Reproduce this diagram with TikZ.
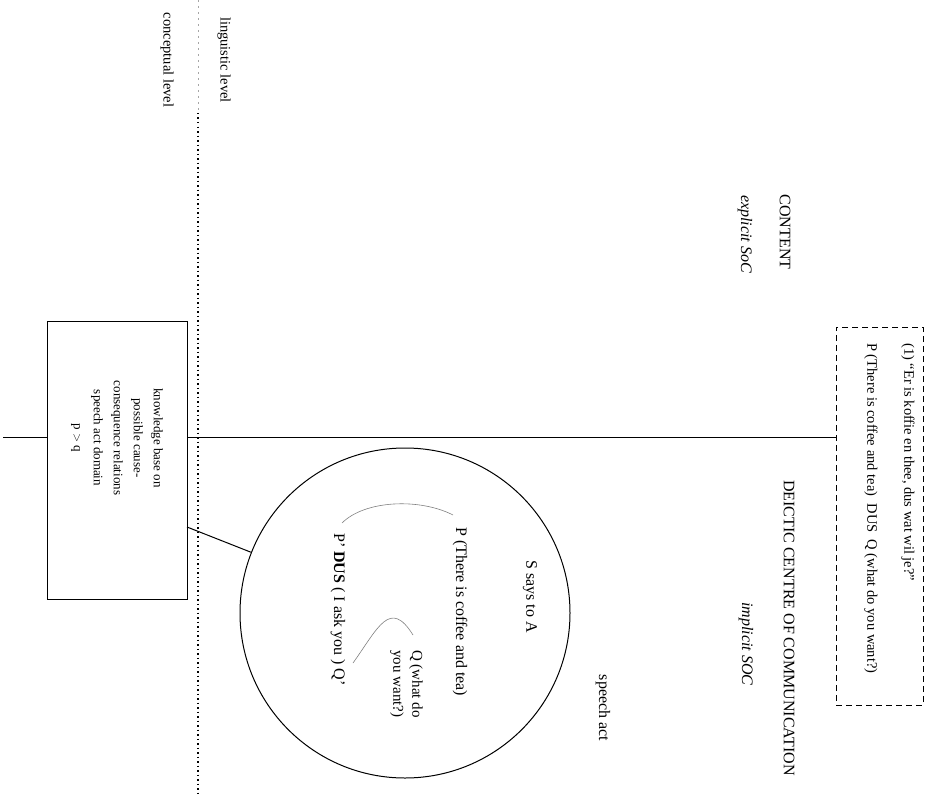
\documentclass[tikz,border=0pt]{standalone}
\usepackage{fontspec}
\setmainfont{Liberation Serif}
\begin{document}
\begin{tikzpicture}[x=1pt,y=-1pt,
  lbl/.style={rotate=-90,inner sep=0pt,font=\fontsize{16}{19}\selectfont},
  small/.style={rotate=-90,inner sep=0pt,font=\fontsize{14.5}{17}\selectfont},
  kbox/.style={draw,line width=1pt,rectangle,inner sep=0pt},
  link/.style={line width=1pt},
  arcline/.style={gray,line width=0.6pt}]
\useasboundingbox (0,0) rectangle (928,797);

% boundary between the two levels
\draw[gray!70,line width=0.5pt,dash pattern=on 2pt off 4pt] (198,0) -- (198,113);
\draw[line width=1.3pt,dash pattern=on 1.5pt off 3pt] (198,113) -- (198,797);
\node[small] (concept) at (167,60) {conceptual level};
\node[small] (ling) at (224,60) {linguistic level};

% knowledge base
\node[kbox,minimum width=140pt,minimum height=278pt] (kb) at (117,460) {};
\node[rotate=-90,align=center,inner sep=0pt,font=\fontsize{13}{20}\selectfont] (kbtext) at (117,438)
  {knowledge base on\\possible cause-\\consequence relations\\speech act domain\\p $>$ q};

% example box
\node[draw,line width=1pt,dash pattern=on 6pt off 4pt,minimum width=87pt,minimum height=378pt,inner sep=0pt] (ex) at (879.5,516) {};
\node[small,anchor=west] (ex1) at (908,343) {(1) ``Er is koffie en thee, dus wat wil je?''};
\node[small,anchor=west] (ex2) at (871,343) {P (There is coffee and tea)\ \ DUS\ \ Q (what do you want?)};

% the main axis
\coordinate (lstub) at (3,437);
\draw[link] (lstub) -- (lstub -| kb.west);
\draw[link] (lstub -| kb.east) -- (lstub -| ex.west);

% speech act circle
\node[draw,circle,line width=1pt,minimum size=330pt,inner sep=0pt] (sa) at (405,613) {};
\draw[link] (187,527) -- (sa);
\node[lbl,anchor=west] (says) at (530,560) {S says to A};
\node[lbl,anchor=west] (pp) at (460,527) {P (There is coffee and tea)};
\node[lbl,align=center,anchor=north west,font=\fontsize{15}{19}\selectfont] (qq) at (423,650) {Q (what do\\you want?)};
\node[lbl,anchor=west] (pd) at (338,533) {P' \textbf{DUS} ( I ask you ) Q'};
\draw[arcline] (342,523) .. controls (365,500) and (420,498) .. (453,515);
\draw[arcline] (353,663) .. controls (378,628) and (390,598) .. (413,635);

% headings
\node[lbl] (content) at (785,232) {CONTENT};
\node[lbl,font=\fontsize{16}{19}\selectfont\itshape] (expl) at (745,234) {explicit SoC};
\node[lbl,anchor=west] (deictic) at (789,480) {DEICTIC CENTRE OF COMMUNICATION};
\node[lbl,font=\fontsize{16}{19}\selectfont\itshape] (impl) at (746,644) {implicit SOC};
\node[lbl] (speech) at (603,708) {speech act};
\end{tikzpicture}
\end{document}
